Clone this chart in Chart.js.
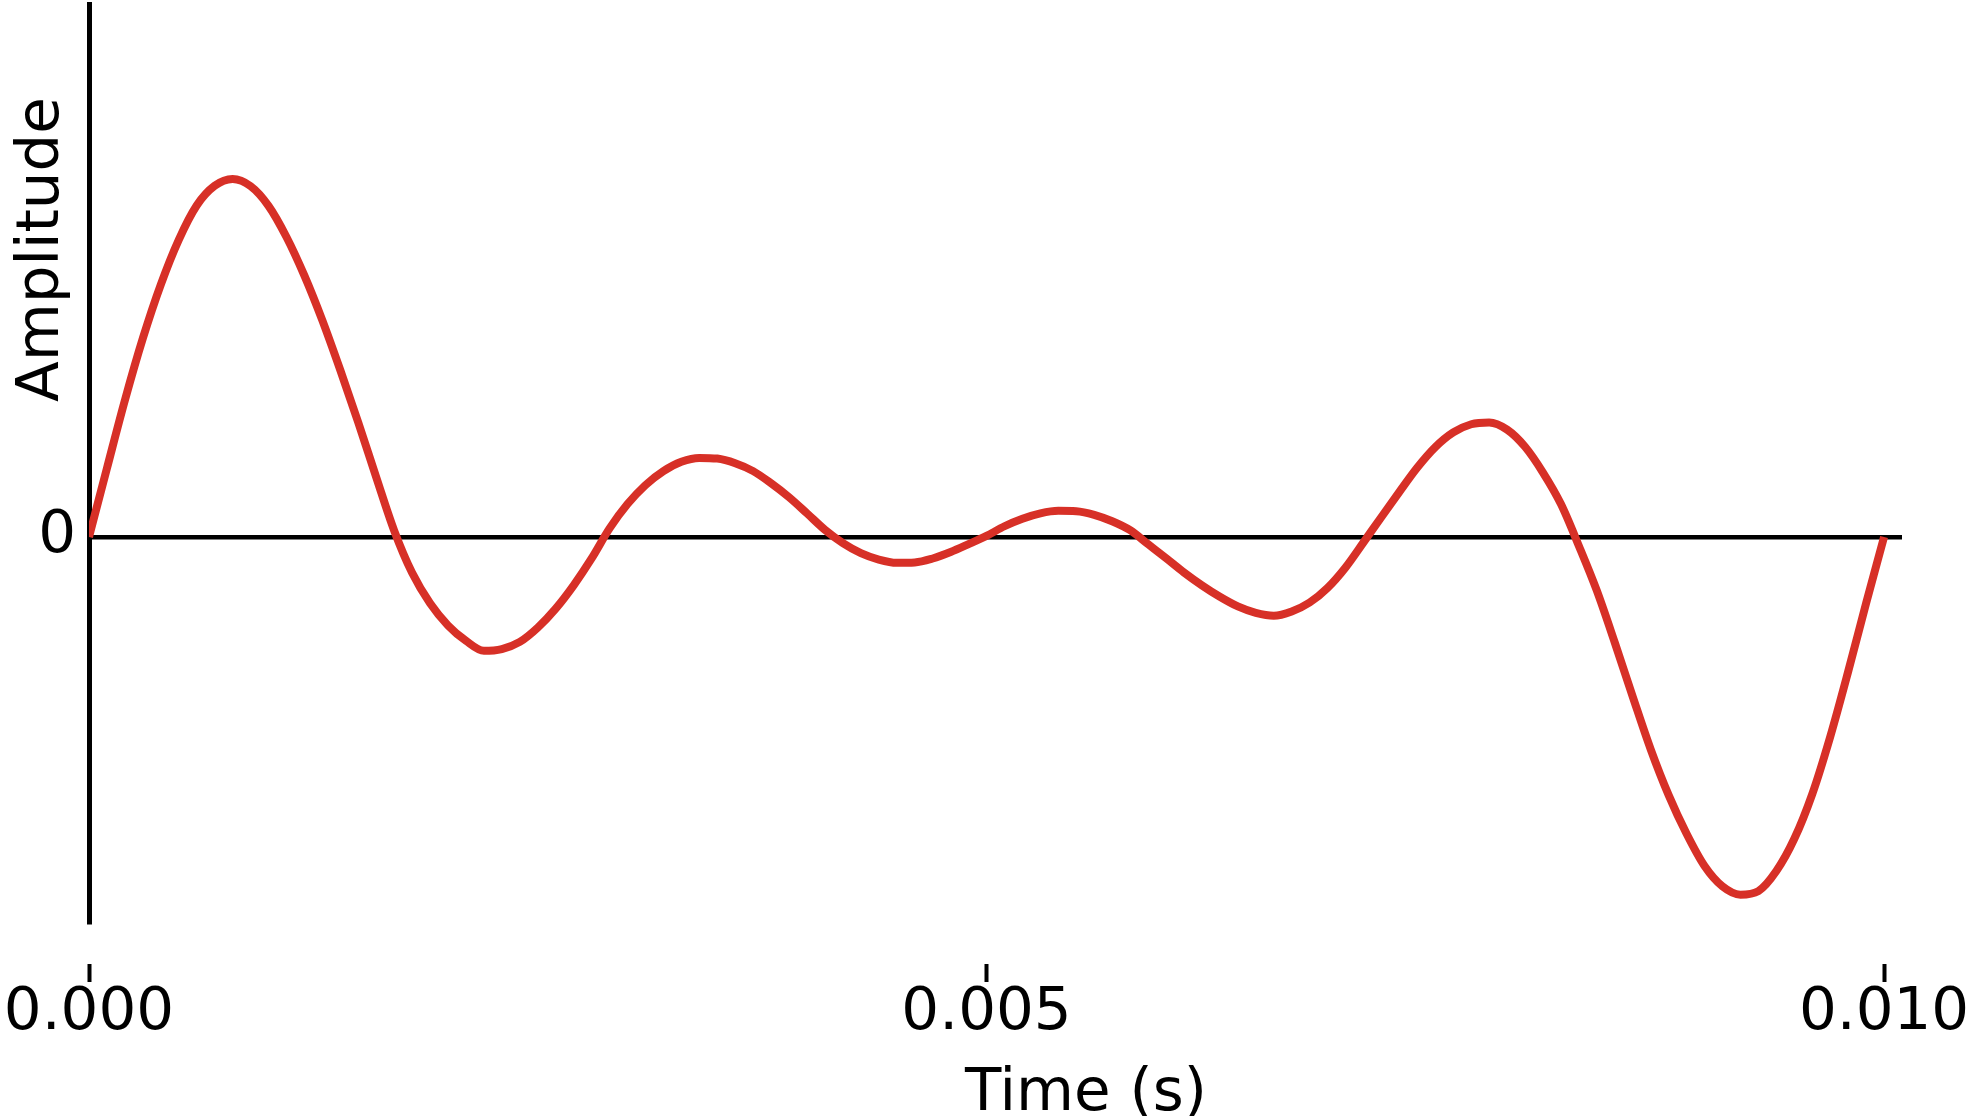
<!DOCTYPE html>
<html>
<head>
<meta charset="utf-8">
<title>Amplitude over time</title>
<script src="https://cdn.jsdelivr.net/npm/chart.js"></script>
<style>
  html, body { margin: 0; padding: 0; background: #ffffff; }
  canvas { display: block; }
</style>
</head>
<body>
<canvas id="wave" width="1966" height="1116" style="width:1966px;height:1116px"></canvas>
<script>
// Sample times (seconds), one sample every 0.1 ms
const timeSeconds = [
  0.0000, 0.0001, 0.0002, 0.0003, 0.0004, 0.0005, 0.0006, 0.0007, 0.0008, 0.0009,
  0.0010, 0.0011, 0.0012, 0.0013, 0.0014, 0.0015, 0.0016, 0.0017, 0.0018, 0.0019,
  0.0020, 0.0021, 0.0022, 0.0023, 0.0024, 0.0025, 0.0026, 0.0027, 0.0028, 0.0029,
  0.0030, 0.0031, 0.0032, 0.0033, 0.0034, 0.0035, 0.0036, 0.0037, 0.0038, 0.0039,
  0.0040, 0.0041, 0.0042, 0.0043, 0.0044, 0.0045, 0.0046, 0.0047, 0.0048, 0.0049,
  0.0050, 0.0051, 0.0052, 0.0053, 0.0054, 0.0055, 0.0056, 0.0057, 0.0058, 0.0059,
  0.0060, 0.0061, 0.0062, 0.0063, 0.0064, 0.0065, 0.0066, 0.0067, 0.0068, 0.0069,
  0.0070, 0.0071, 0.0072, 0.0073, 0.0074, 0.0075, 0.0076, 0.0077, 0.0078, 0.0079,
  0.0080, 0.0081, 0.0082, 0.0083, 0.0084, 0.0085, 0.0086, 0.0087, 0.0088, 0.0089,
  0.0090, 0.0091, 0.0092, 0.0093, 0.0094, 0.0095, 0.0096, 0.0097, 0.0098, 0.0099,
  0.0100
];

// Signal amplitude at each sample (relative units)
const amplitude = [
   0.000,  0.192,  0.382,  0.555,  0.705,  0.830,  0.926,  0.981,  1.000,  0.980,
   0.925,  0.838,  0.730,  0.605,  0.466,  0.320,  0.167,  0.018, -0.100, -0.185,
  -0.247, -0.290, -0.318, -0.313, -0.293, -0.253, -0.200, -0.135, -0.060,  0.024,
   0.092,  0.145,  0.184,  0.210,  0.221,  0.219,  0.206,  0.184,  0.150,  0.111,
   0.066,  0.020, -0.017, -0.045, -0.063, -0.072, -0.071, -0.060, -0.042, -0.020,
   0.003,  0.030,  0.051,  0.066,  0.073,  0.072,  0.062,  0.044,  0.019, -0.020,
  -0.059, -0.099, -0.135, -0.167, -0.194, -0.212, -0.220, -0.208, -0.183, -0.142,
  -0.085, -0.015,  0.056,  0.126,  0.194,  0.251,  0.292,  0.315,  0.320,  0.300,
   0.252,  0.180,  0.092, -0.025, -0.150, -0.295, -0.446, -0.593, -0.721, -0.829,
  -0.919, -0.976, -0.999, -0.989, -0.933, -0.843, -0.718, -0.558, -0.376, -0.185,
   0.000
];

// Axis ticks and titles
const timeTicks = [0, 0.005, 0.010];
const amplitudeTicks = [0];
const timeTitle = 'Time (s)';
const amplitudeTitle = 'Amplitude';

const FONT_FAMILY = "'DejaVu Sans', 'Liberation Sans', sans-serif";
const FONT_SIZE = 59.5;

Chart.defaults.font.family = FONT_FAMILY;
Chart.defaults.color = '#000000';

// Axis titles sit off-centre, so they are placed by hand after the chart is drawn
const axisTitles = {
  id: 'axisTitles',
  afterDraw(chart) {
    const ctx = chart.ctx;
    ctx.save();
    ctx.font = FONT_SIZE + 'px ' + FONT_FAMILY;
    ctx.fillStyle = '#000000';
    ctx.textAlign = 'left';
    ctx.textBaseline = 'alphabetic';
    ctx.fillText(timeTitle, 965, 1110);
    ctx.translate(57.5, 402);
    ctx.rotate(-Math.PI / 2);
    ctx.fillText(amplitudeTitle, 0, 0);
    ctx.restore();
  }
};

new Chart(document.getElementById('wave'), {
  type: 'line',
  data: {
    datasets: [{
      data: timeSeconds.map((t, i) => ({ x: t, y: amplitude[i] })),
      borderColor: '#d73027',
      borderWidth: 8,
      pointRadius: 0,
      cubicInterpolationMode: 'monotone',
      borderJoinStyle: 'round',
      fill: false
    }]
  },
  options: {
    responsive: false,
    devicePixelRatio: 1,
    animation: false,
    events: [],
    layout: { padding: { top: 4, right: 64, bottom: 0, left: 0 } },
    plugins: {
      legend: { display: false },
      tooltip: { enabled: false }
    },
    scales: {
      x: {
        type: 'linear',
        position: 'bottom',
        min: 0,
        max: 0.0101,
        afterBuildTicks: (scale) => { scale.ticks = timeTicks.map(v => ({ value: v })); },
        afterFit: (scale) => {
          scale.height = 194;
          scale.paddingLeft = 0;
          scale.paddingRight = 0;
        },
        border: { display: false },
        grid: {
          display: true,
          drawOnChartArea: false,
          drawTicks: true,
          tickLength: 60,
          tickWidth: 4,
          tickColor: '#000000',
          tickBorderDash: [0, 42, 18, 400]
        },
        ticks: {
          autoSkip: false,
          maxRotation: 0,
          padding: 0,
          color: '#000000',
          font: { size: FONT_SIZE, lineHeight: 1.06 },
          callback: (v) => Number(v).toFixed(3)
        }
      },
      y: {
        type: 'linear',
        position: 'left',
        min: -1.0754,
        max: 1.4888,
        afterBuildTicks: (scale) => { scale.ticks = amplitudeTicks.map(v => ({ value: v })); },
        afterFit: (scale) => {
          scale.width = 89;
          scale.paddingTop = 0;
          scale.paddingBottom = 0;
        },
        border: { display: true, color: '#000000', width: 5 },
        grid: {
          display: true,
          drawOnChartArea: true,
          drawTicks: false,
          color: '#000000',
          lineWidth: 4.5
        },
        ticks: {
          padding: 13,
          color: '#000000',
          font: { size: FONT_SIZE },
          callback: (v) => String(v)
        }
      }
    }
  },
  plugins: [axisTitles]
});
</script>
</body>
</html>
